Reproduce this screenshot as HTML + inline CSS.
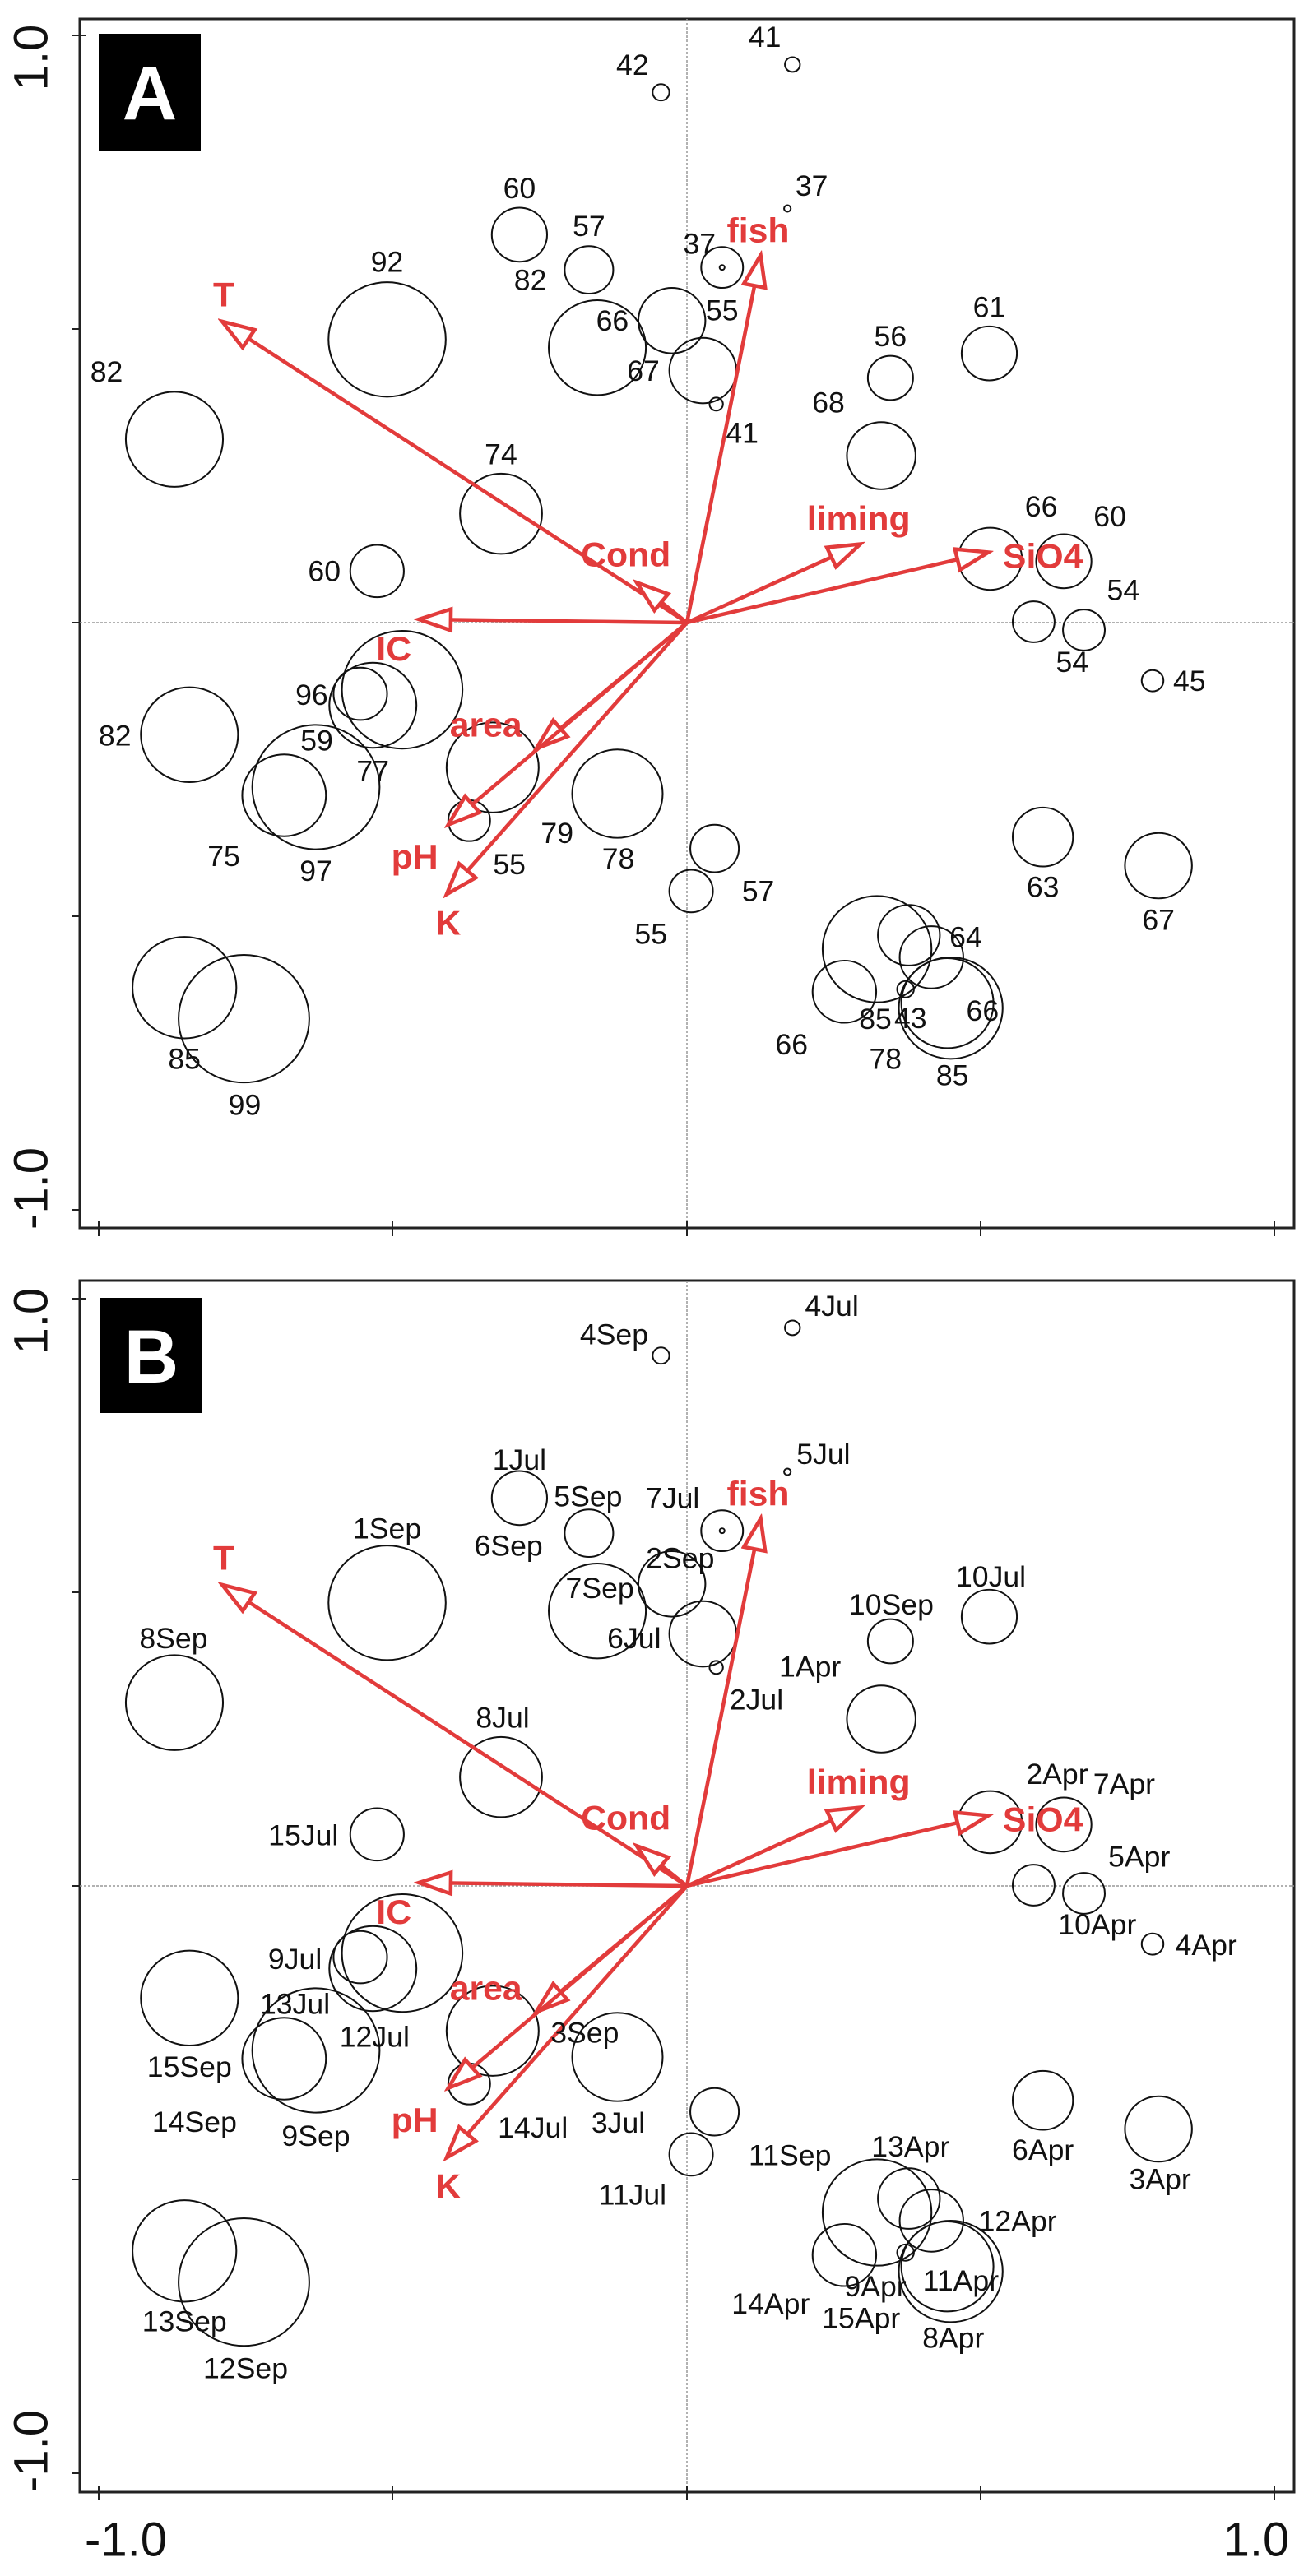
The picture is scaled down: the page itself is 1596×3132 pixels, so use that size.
<!DOCTYPE html>
<html><head><meta charset="utf-8"><style>
html,body{margin:0;padding:0;background:#fff;}
svg{display:block;}
.n{font-family:"Liberation Sans",Arial,sans-serif;font-size:35px;fill:#111;text-anchor:middle;dominant-baseline:central;}
.r{font-family:"Liberation Sans",Arial,sans-serif;font-size:42px;font-weight:bold;fill:#e23b3b;text-anchor:middle;dominant-baseline:central;}
.c{fill:none;stroke:#111;stroke-width:2;}
.a{stroke:#e23b3b;stroke-width:4.5;fill:none;}
.ax{font-family:"Liberation Sans",Arial,sans-serif;font-size:58px;fill:#111;text-anchor:middle;dominant-baseline:central;}
</style></head><body>
<svg width="1596" height="3132" viewBox="0 0 1596 3132" xmlns="http://www.w3.org/2000/svg">
<defs>
<marker id="ah" markerUnits="userSpaceOnUse" markerWidth="48" markerHeight="36" refX="42" refY="16" orient="auto">
<path d="M4,3 L42,16 L4,29 Z" fill="#fff" stroke="#e23b3b" stroke-width="4.5"/>
</marker>
<g id="circ">
<circle class="c" cx="789" cy="113" r="10"/>
<circle class="c" cx="946" cy="79" r="9"/>
<circle class="c" cx="940" cy="255" r="4"/>
<circle class="c" cx="620" cy="287" r="33"/>
<circle class="c" cx="703" cy="330" r="29"/>
<circle class="c" cx="862" cy="327" r="25"/>
<circle class="c" cx="862" cy="327" r="3"/>
<circle class="c" cx="462" cy="415" r="70"/>
<circle class="c" cx="713" cy="425" r="58"/>
<circle class="c" cx="802" cy="392" r="40"/>
<circle class="c" cx="839" cy="453" r="40"/>
<circle class="c" cx="855" cy="494" r="8"/>
<circle class="c" cx="208" cy="537" r="58"/>
<circle class="c" cx="1181" cy="432" r="33"/>
<circle class="c" cx="1063" cy="462" r="27"/>
<circle class="c" cx="1052" cy="557" r="41"/>
<circle class="c" cx="598" cy="628" r="49"/>
<circle class="c" cx="450" cy="698" r="32"/>
<circle class="c" cx="1182" cy="683" r="38"/>
<circle class="c" cx="1270" cy="686" r="33"/>
<circle class="c" cx="1234" cy="760" r="25"/>
<circle class="c" cx="1294" cy="770" r="25"/>
<circle class="c" cx="1376" cy="832" r="13"/>
<circle class="c" cx="480" cy="843" r="72"/>
<circle class="c" cx="445" cy="862" r="52"/>
<circle class="c" cx="430" cy="848" r="32"/>
<circle class="c" cx="226" cy="898" r="58"/>
<circle class="c" cx="377" cy="962" r="76"/>
<circle class="c" cx="339" cy="972" r="50"/>
<circle class="c" cx="588" cy="938" r="55"/>
<circle class="c" cx="560" cy="1003" r="25"/>
<circle class="c" cx="737" cy="970" r="54"/>
<circle class="c" cx="853" cy="1037" r="29"/>
<circle class="c" cx="825" cy="1089" r="26"/>
<circle class="c" cx="1245" cy="1023" r="36"/>
<circle class="c" cx="1383" cy="1058" r="40"/>
<circle class="c" cx="1047" cy="1160" r="65"/>
<circle class="c" cx="1085" cy="1143" r="37"/>
<circle class="c" cx="1112" cy="1170" r="38"/>
<circle class="c" cx="1135" cy="1232" r="62"/>
<circle class="c" cx="1131" cy="1226" r="55"/>
<circle class="c" cx="1008" cy="1212" r="38"/>
<circle class="c" cx="1081" cy="1209" r="10"/>
<circle class="c" cx="220" cy="1207" r="62"/>
<circle class="c" cx="291" cy="1245" r="78"/>
</g>
<g id="arr">
<line x1="820" y1="761" x2="265" y2="393" class="a" marker-end="url(#ah)"/>
<line x1="820" y1="761" x2="908" y2="312" class="a" marker-end="url(#ah)"/>
<line x1="820" y1="761" x2="760" y2="712" class="a" marker-end="url(#ah)"/>
<line x1="820" y1="761" x2="500" y2="757" class="a" marker-end="url(#ah)"/>
<line x1="820" y1="761" x2="1027" y2="665" class="a" marker-end="url(#ah)"/>
<line x1="820" y1="761" x2="1180" y2="675" class="a" marker-end="url(#ah)"/>
<line x1="820" y1="761" x2="640" y2="915" class="a" marker-end="url(#ah)"/>
<line x1="820" y1="761" x2="535" y2="1008" class="a" marker-end="url(#ah)"/>
<line x1="820" y1="761" x2="533" y2="1093" class="a" marker-end="url(#ah)"/>
<text class="r" x="267" y="360">T</text>
<text class="r" x="905" y="282">fish</text>
<text class="r" x="747" y="678">Cond</text>
<text class="r" x="1025" y="634">liming</text>
<text class="r" x="1245" y="680">SiO4</text>
<text class="r" x="470" y="793">IC</text>
<text class="r" x="580" y="886">area</text>
<text class="r" x="495" y="1047">pH</text>
<text class="r" x="535" y="1128">K</text>
</g>
</defs>

<!-- Panel A frame -->
<rect x="97" y="23" width="1476" height="1470" fill="none" stroke="#222" stroke-width="3"/>
<line x1="835" y1="23" x2="835" y2="1493" stroke="#999" stroke-width="1.5" stroke-dasharray="3,2"/>
<line x1="97" y1="757" x2="1573" y2="757" stroke="#999" stroke-width="1.5" stroke-dasharray="3,2"/>
<g stroke="#222" stroke-width="2">
<line x1="88" y1="43" x2="104" y2="43"/><line x1="88" y1="400" x2="97" y2="400"/><line x1="88" y1="757" x2="97" y2="757"/><line x1="88" y1="1114" x2="97" y2="1114"/><line x1="88" y1="1471" x2="97" y2="1471"/>
<line x1="120" y1="1485" x2="120" y2="1503"/><line x1="477" y1="1485" x2="477" y2="1503"/><line x1="835" y1="1485" x2="835" y2="1503"/><line x1="1192" y1="1485" x2="1192" y2="1503"/><line x1="1549" y1="1485" x2="1549" y2="1503"/>
</g>
<text class="ax" transform="translate(38,70) rotate(-90)">1.0</text>
<text class="ax" transform="translate(38,1445) rotate(-90)">-1.0</text>
<rect x="120" y="41" width="124" height="142" fill="#000"/>
<text x="182" y="114" font-family="Liberation Sans,Arial,sans-serif" font-size="92" font-weight="bold" fill="#fff" text-anchor="middle" dominant-baseline="central">A</text>

<g transform="translate(835,757) scale(1.018,0.995) translate(-820,-761)">
<use href="#circ"/>
<use href="#arr"/>
<g class="n">
<text class="n" x="755" y="80">42</text><text class="n" x="913" y="46">41</text><text class="n" x="969" y="228">37</text>
<text class="n" x="620" y="231">60</text><text class="n" x="703" y="277">57</text><text class="n" x="633" y="343">82</text>
<text class="n" x="835" y="299">37</text><text class="n" x="462" y="321">92</text><text class="n" x="862" y="380">55</text>
<text class="n" x="731" y="393">66</text><text class="n" x="768" y="454">67</text><text class="n" x="886" y="530">41</text>
<text class="n" x="127" y="455">82</text><text class="n" x="1181" y="376">61</text><text class="n" x="1063" y="412">56</text>
<text class="n" x="989" y="493">68</text><text class="n" x="598" y="556">74</text><text class="n" x="387" y="699">60</text>
<text class="n" x="1243" y="620">66</text><text class="n" x="1325" y="632">60</text><text class="n" x="1341" y="722">54</text>
<text class="n" x="1280" y="810">54</text><text class="n" x="1420" y="833">45</text><text class="n" x="372" y="850">96</text>
<text class="n" x="137" y="900">82</text><text class="n" x="378" y="906">59</text><text class="n" x="445" y="943">77</text>
<text class="n" x="267" y="1047">75</text><text class="n" x="377" y="1065">97</text><text class="n" x="665" y="1019">79</text>
<text class="n" x="738" y="1050">78</text><text class="n" x="608" y="1057">55</text><text class="n" x="905" y="1090">57</text>
<text class="n" x="777" y="1142">55</text><text class="n" x="1245" y="1085">63</text><text class="n" x="1383" y="1125">67</text>
<text class="n" x="1153" y="1146">64</text><text class="n" x="1173" y="1236">66</text><text class="n" x="1045" y="1246">85</text>
<text class="n" x="1087" y="1245">43</text><text class="n" x="945" y="1277">66</text><text class="n" x="1057" y="1295">78</text>
<text class="n" x="1137" y="1315">85</text><text class="n" x="220" y="1295">85</text><text class="n" x="292" y="1351">99</text>
</g>
</g>

<!-- Panel B frame -->
<rect x="97" y="1557" width="1476" height="1473" fill="none" stroke="#222" stroke-width="3"/>
<line x1="835" y1="1557" x2="835" y2="3030" stroke="#999" stroke-width="1.5" stroke-dasharray="3,2"/>
<line x1="97" y1="2293" x2="1573" y2="2293" stroke="#999" stroke-width="1.5" stroke-dasharray="3,2"/>
<g stroke="#222" stroke-width="2">
<line x1="88" y1="1579" x2="104" y2="1579"/><line x1="88" y1="1936" x2="97" y2="1936"/><line x1="88" y1="2293" x2="97" y2="2293"/><line x1="88" y1="2650" x2="97" y2="2650"/><line x1="88" y1="3007" x2="97" y2="3007"/>
<line x1="120" y1="3022" x2="120" y2="3040"/><line x1="477" y1="3022" x2="477" y2="3040"/><line x1="835" y1="3022" x2="835" y2="3040"/><line x1="1192" y1="3022" x2="1192" y2="3040"/><line x1="1549" y1="3022" x2="1549" y2="3040"/>
</g>
<text class="ax" transform="translate(38,1606) rotate(-90)">1.0</text>
<text class="ax" transform="translate(38,2980) rotate(-90)">-1.0</text>
<text class="ax" x="153" y="3088">-1.0</text>
<text class="ax" x="1527" y="3088">1.0</text>
<rect x="122" y="1578" width="124" height="140" fill="#000"/>
<text x="184" y="1650" font-family="Liberation Sans,Arial,sans-serif" font-size="92" font-weight="bold" fill="#fff" text-anchor="middle" dominant-baseline="central">B</text>

<g transform="translate(835,2293) scale(1.018,0.995) translate(-820,-2290)">
<g transform="translate(0,1529)">
<use href="#circ"/>
<use href="#arr"/>
</g>
<g>
<text class="n" x="733" y="1617">4Sep</text><text class="n" x="993" y="1582">4Jul</text><text class="n" x="983" y="1763">5Jul</text>
<text class="n" x="620" y="1770">1Jul</text><text class="n" x="702" y="1815">5Sep</text><text class="n" x="803" y="1817">7Jul</text>
<text class="n" x="607" y="1875">6Sep</text><text class="n" x="462" y="1854">1Sep</text><text class="n" x="812" y="1890">2Sep</text>
<text class="n" x="716" y="1927">7Sep</text><text class="n" x="757" y="1988">6Jul</text><text class="n" x="1183" y="1913">10Jul</text>
<text class="n" x="1064" y="1947">10Sep</text><text class="n" x="967" y="2023">1Apr</text><text class="n" x="903" y="2063">2Jul</text>
<text class="n" x="207" y="1988">8Sep</text><text class="n" x="600" y="2085">8Jul</text><text class="n" x="1262" y="2154">2Apr</text>
<text class="n" x="1342" y="2166">7Apr</text><text class="n" x="362" y="2229">15Jul</text><text class="n" x="1360" y="2255">5Apr</text>
<text class="n" x="1310" y="2338">10Apr</text><text class="n" x="1440" y="2363">4Apr</text><text class="n" x="352" y="2380">9Jul</text>
<text class="n" x="352" y="2435">13Jul</text><text class="n" x="447" y="2475">12Jul</text><text class="n" x="226" y="2512">15Sep</text>
<text class="n" x="698" y="2470">3Sep</text><text class="n" x="232" y="2579">14Sep</text><text class="n" x="377" y="2596">9Sep</text>
<text class="n" x="636" y="2586">14Jul</text><text class="n" x="738" y="2580">3Jul</text><text class="n" x="943" y="2620">11Sep</text>
<text class="n" x="1087" y="2609">13Apr</text><text class="n" x="1245" y="2613">6Apr</text><text class="n" x="1385" y="2649">3Apr</text>
<text class="n" x="755" y="2668">11Jul</text><text class="n" x="1215" y="2700">12Apr</text><text class="n" x="1045" y="2780">9Apr</text>
<text class="n" x="1147" y="2773">11Apr</text><text class="n" x="920" y="2801">14Apr</text><text class="n" x="1028" y="2819">15Apr</text>
<text class="n" x="1138" y="2843">8Apr</text><text class="n" x="220" y="2823">13Sep</text><text class="n" x="293" y="2880">12Sep</text>
</g>
</g>
</svg>
</body></html>
